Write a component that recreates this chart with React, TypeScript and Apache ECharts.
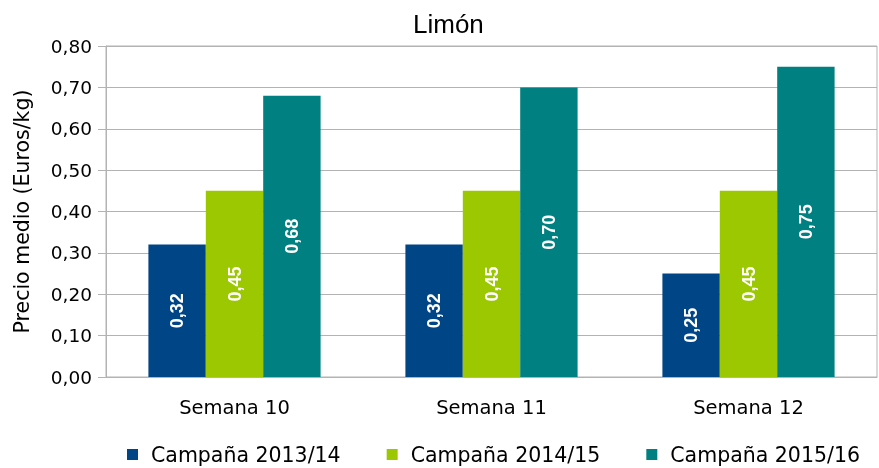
import React, { useEffect, useRef } from "react";
import * as echarts from "echarts";

const categories = ["Semana 10", "Semana 11", "Semana 12"];
const seriesNames = ["Campaña 2013/14", "Campaña 2014/15", "Campaña 2015/16"];
const s2013 = [0.32, 0.32, 0.25];
const s2014 = [0.45, 0.45, 0.45];
const s2015 = [0.68, 0.7, 0.75];
const colors = ["#004586", "#9bc800", "#008080"];

const fmt = (v: number) => v.toFixed(2).replace(".", ",");
const labelFont = "'DejaVu Sans', sans-serif";

export default function App() {
  const ref = useRef<HTMLDivElement>(null);
  useEffect(() => {
    const chart = echarts.init(ref.current!, null, { renderer: "svg" });
    const values = [s2013, s2014, s2015];
    chart.setOption({
      animation: false,
      title: {
        text: "Limón",
        left: 408,
        top: 6,
        textStyle: { fontFamily: "'Liberation Sans', Arial, sans-serif", fontSize: 26, fontWeight: "normal", color: "#000" },
      },
      grid: { left: 106, right: 2, top: 46, bottom: 91, show: true, borderColor: "#b3b3b3", borderWidth: 1 },
      legend: {
        bottom: -2,
        left: 122,
        itemWidth: 11,
        itemHeight: 11,
        itemGap: 46,
        icon: "rect",
        textStyle: { fontFamily: labelFont, fontSize: 20.5, color: "#000", padding: [0, 0, 0, 8] },
        data: seriesNames,
      },
      xAxis: {
        type: "category",
        data: categories,
        axisLine: { lineStyle: { color: "#b3b3b3" } },
        axisTick: { show: false },
        axisLabel: { fontFamily: labelFont, fontSize: 19.5, color: "#000", margin: 20 },
      },
      yAxis: {
        type: "value",
        min: 0,
        max: 0.8,
        interval: 0.1,
        name: "Precio medio (Euros/kg)",
        nameLocation: "middle",
        nameGap: 74,
        nameTextStyle: { fontFamily: labelFont, fontSize: 20.5, color: "#000" },
        axisLine: { show: true, lineStyle: { color: "#b3b3b3" } },
        axisTick: { show: true, length: 8, lineStyle: { color: "#b3b3b3" } },
        splitLine: { lineStyle: { color: "#b3b3b3" } },
        axisLabel: { fontFamily: labelFont, fontSize: 18.5, color: "#000", margin: 14, formatter: (v: number) => fmt(v) },
      },
      series: seriesNames.map((name, i) => ({
        name,
        type: "bar",
        data: values[i],
        barGap: "0%",
        barCategoryGap: "33%",
        itemStyle: { color: colors[i] },
        label: {
          show: true,
          position: "inside",
          rotate: 90,
          color: "#fff",
          fontFamily: "'Liberation Sans', Arial, sans-serif",
          fontWeight: "bold",
          fontSize: 18,
          formatter: (p: any) => fmt(p.value),
        },
      })),
    });
    return () => chart.dispose();
  }, []);
  return <div ref={ref} style={{ position: "fixed", left: 0, top: 0, width: 879, height: 468 }} />;
}
